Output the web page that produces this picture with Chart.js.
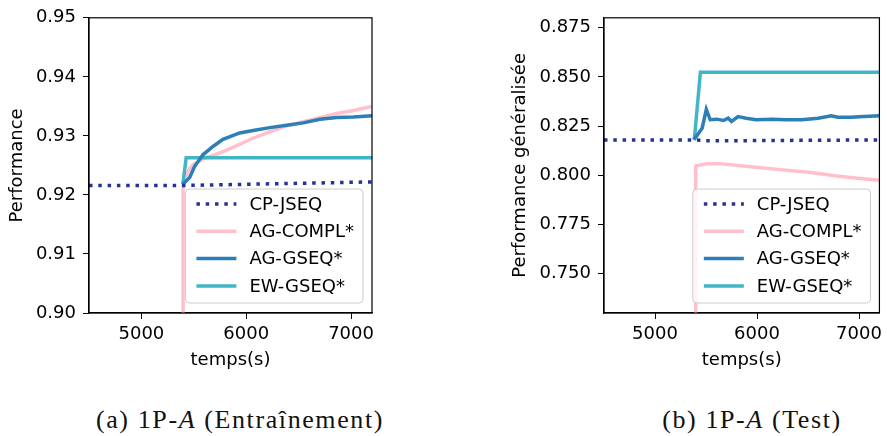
<!DOCTYPE html>
<html>
<head>
<meta charset="utf-8">
<script src="https://cdn.jsdelivr.net/npm/chart.js@4.4.1/dist/chart.umd.min.js"></script>
<style>
    body { margin: 0; background: #fff; }
    #page { position: relative; width: 887px; height: 436px; overflow: hidden; }
    .box { position: absolute; top: 0; height: 372px; }
    .caption {
        position: absolute; top: 405px; white-space: nowrap;
        font-family: "Liberation Serif", serif; font-size: 26px; letter-spacing: 1.6px;
        transform: translateX(-50%); color: #111;
    }
</style>
</head>
<body>
<div id="page">
    <div class="box" style="left:0; width:380px;"><canvas id="train-chart"></canvas></div>
    <div class="box" style="left:505px; width:382px;"><canvas id="test-chart"></canvas></div>
    <div class="caption" style="left:240px;">(a) 1P-<i>A</i> (Entraînement)</div>
    <div class="caption" style="left:752px;">(b) 1P-<i>A</i> (Test)</div>
</div>
<script>
// series names and colours
var seriesLabels = ['CP-JSEQ', 'AG-COMPL*', 'AG-GSEQ*', 'EW-GSEQ*'];
var seriesColors = ['#253494', '#ffc0cb', '#2c7fb8', '#41b6c4'];

var xTicks = [5000, 6000, 7000];
var trainYTicks = [0.90, 0.91, 0.92, 0.93, 0.94, 0.95];
var testYTicks = [0.750, 0.775, 0.800, 0.825, 0.850, 0.875];

// (a) Entrainement
var trainCpTime = [4500, 5400, 6000, 6600, 7200];
var trainCp = [0.9216, 0.9216, 0.9218, 0.9220, 0.9222];
var trainComplTime = [5395, 5398, 5443, 5491, 5587, 5746, 5906, 6065, 6225, 6385, 6544, 6703, 6863, 7022, 7200];
var trainCompl = [0.70, 0.9218, 0.9240, 0.9251, 0.9261, 0.9271, 0.9283, 0.9296, 0.9307, 0.9317, 0.9324, 0.9331, 0.9338, 0.9343, 0.9350];
var trainGseqTime = [5395, 5459, 5507, 5587, 5683, 5778, 5938, 6065, 6225, 6385, 6544, 6703, 6863, 7022, 7200];
var trainGseq = [0.9218, 0.9229, 0.9248, 0.9268, 0.9282, 0.9294, 0.9305, 0.9309, 0.9314, 0.9318, 0.9322, 0.9328, 0.9331, 0.9332, 0.9334];
var trainEwTime = [5395, 5427, 7200];
var trainEw = [0.9218, 0.9263, 0.9263];

// (b) Test
var testCpTime = [4500, 5400, 5500, 6000, 6600, 7200];
var testCp = [0.8179, 0.8179, 0.8175, 0.8176, 0.8178, 0.8179];
var testComplTime = [5397, 5399, 5510, 5638, 5958, 6279, 6535, 6760, 6984, 7200];
var testCompl = [0.60, 0.8047, 0.8059, 0.8059, 0.8042, 0.8026, 0.8014, 0.7997, 0.7985, 0.7975];
var testGseqTime = [5382, 5462, 5503, 5541, 5606, 5670, 5718, 5750, 5814, 5894, 5990, 6151, 6279, 6439, 6599, 6728, 6792, 6920, 7048, 7200];
var testGseq = [0.8181, 0.8239, 0.8335, 0.8282, 0.8285, 0.8278, 0.8290, 0.8273, 0.8298, 0.8290, 0.8282, 0.8285, 0.8282, 0.8282, 0.8290, 0.8302, 0.8295, 0.8295, 0.8298, 0.8302];
var testEwTime = [5385, 5445, 7200];
var testEw = [0.8180, 0.8523, 0.8523];

var FONT = 'DejaVu Sans';
var dotDash = [3.5, 5.8];

function toPoints(xs, ys) {
    return xs.map(function (x, i) { return { x: x, y: ys[i] }; });
}

function makeDatasets(series) {
    // draw order: dotted on top, then blue, teal, pink
    var drawOrder = [0, 3, 1, 2];
    return series.map(function (s, i) {
        return {
            label: seriesLabels[i],
            data: toPoints(s[0], s[1]),
            borderColor: seriesColors[i],
            borderWidth: 3.5,
            borderDash: i === 0 ? dotDash : [],
            pointRadius: 0,
            tension: 0,
            clip: 0,
            order: drawOrder[i]
        };
    });
}

// matplotlib-like legend box in lower right + full frame
var boxLegend = {
    id: 'boxLegend',
    afterDatasetsDraw: function (chart) {
        var ctx = chart.ctx;
        var area = chart.chartArea;
        ctx.save();
        ctx.font = '18px "' + FONT + '"';
        var maxW = 0;
        seriesLabels.forEach(function (l) { maxW = Math.max(maxW, ctx.measureText(l).width); });
        var w = 11 + 40 + 13 + maxW + 9;
        var h = 114;
        var x = area.right - 9 - w;
        var y = area.bottom - 10 - h;
        ctx.beginPath();
        ctx.roundRect(x, y, w, h, 4);
        ctx.fillStyle = 'rgba(255,255,255,0.8)';
        ctx.fill();
        ctx.strokeStyle = '#cccccc';
        ctx.lineWidth = 1;
        ctx.stroke();
        seriesLabels.forEach(function (l, i) {
            var cy = y + 15 + i * 27.3;
            ctx.beginPath();
            ctx.setLineDash(i === 0 ? dotDash : []);
            ctx.strokeStyle = seriesColors[i];
            ctx.lineWidth = 3.5;
            ctx.moveTo(x + 11, cy);
            ctx.lineTo(x + 51, cy);
            ctx.stroke();
            ctx.setLineDash([]);
            ctx.fillStyle = '#000';
            ctx.textBaseline = 'middle';
            ctx.fillText(l, x + 64, cy + 1);
        });
        // top and right spines
        ctx.strokeStyle = '#000';
        ctx.lineWidth = 1.2;
        ctx.strokeRect(area.left, area.top, area.right - area.left, area.bottom - area.top);
        ctx.restore();
    }
};

function makeChart(canvasId, series, yTicks, yMin, yMax, decimals, yTitle, yWidth, pad, titlePad) {
    return new Chart(document.getElementById(canvasId), {
        type: 'line',
        data: { datasets: makeDatasets(series) },
        options: {
            responsive: true,
            maintainAspectRatio: false,
            animation: false,
            layout: { padding: pad },
            plugins: { legend: { display: false }, tooltip: { enabled: false } },
            scales: {
                x: {
                    type: 'linear',
                    min: 4500,
                    max: 7200,
                    afterBuildTicks: function (axis) {
                        axis.ticks = xTicks.map(function (v) { return { value: v }; });
                    },
                    afterFit: function (axis) { axis.height = 59; },
                    grid: { drawOnChartArea: false, drawTicks: true, tickLength: 6, color: '#000' },
                    border: { display: true, color: '#000', width: 1.2 },
                    ticks: {
                        color: '#000', padding: 5, maxRotation: 0, font: { family: FONT, size: 18 },
                        callback: function (v) { return String(v); }
                    },
                    title: { display: true, text: 'temps(s)', color: '#000', padding: { top: 0, bottom: 1 }, font: { family: FONT, size: 18 } }
                },
                y: {
                    min: yMin,
                    max: yMax,
                    afterBuildTicks: function (axis) {
                        axis.ticks = yTicks.map(function (v) { return { value: v }; });
                    },
                    afterFit: function (axis) { axis.width = yWidth; },
                    grid: { drawOnChartArea: false, drawTicks: true, tickLength: 6, color: '#000' },
                    border: { display: true, color: '#000', width: 1.2 },
                    ticks: {
                        color: '#000', padding: 7, font: { family: FONT, size: 18 },
                        callback: function (v) { return Number(v).toFixed(decimals); }
                    },
                    title: { display: true, text: yTitle, color: '#000', padding: { top: titlePad, bottom: 0 }, font: { family: FONT, size: 18 } }
                }
            }
        },
        plugins: [boxLegend]
    });
}

makeChart('train-chart',
    [[trainCpTime, trainCp], [trainComplTime, trainCompl], [trainGseqTime, trainGseq], [trainEwTime, trainEw]],
    trainYTicks, 0.90, 0.95, 2, 'Performance', 89, { top: 15, right: 8, left: 0, bottom: 0 }, 7);

makeChart('test-chart',
    [[testCpTime, testCp], [testComplTime, testCompl], [testGseqTime, testGseq], [testEwTime, testEw]],
    testYTicks, 0.73, 0.88, 3, 'Performance généralisée', 99, { top: 16, right: 1, left: 0, bottom: 0 }, 5);
</script>
</body>
</html>
